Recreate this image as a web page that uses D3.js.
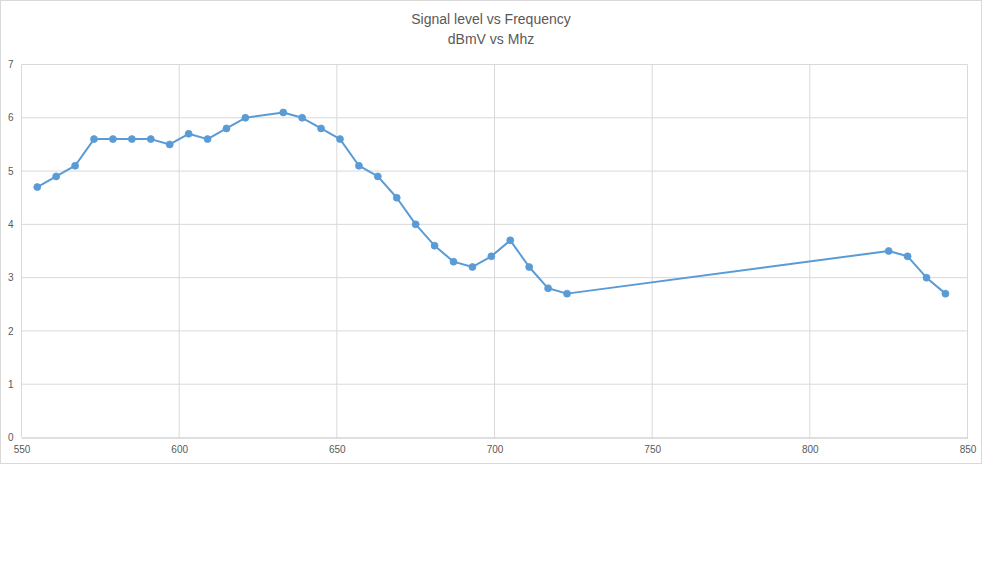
<!DOCTYPE html>
<html><head><meta charset="utf-8">
<script src="https://cdn.jsdelivr.net/npm/d3@7"></script>
<style>body{margin:0;background:#fff;}svg{display:block;}</style>
</head><body><svg id="c" width="999" height="562"></svg>
<script>
const titleLines = ["Signal level vs Frequency", "dBmV vs Mhz"];
const frequencies = [555,561,567,573,579,585,591,597,603,609,615,621,633,639,645,651,657,663,669,675,681,687,693,699,705,711,717,723,825,831,837,843];
const levels = [4.7,4.9,5.1,5.6,5.6,5.6,5.6,5.5,5.7,5.6,5.8,6.0,6.1,6.0,5.8,5.6,5.1,4.9,4.5,4.0,3.6,3.3,3.2,3.4,3.7,3.2,2.8,2.7,3.5,3.4,3.0,2.7];
const xTicks = [550,600,650,700,750,800,850];
const yTicks = [0,1,2,3,4,5,6,7];

const svg = d3.select("#c");
const font = "'Liberation Sans Narrow','Liberation Sans',Arial,sans-serif";
svg.append("rect").attr("x",0.5).attr("y",0.5).attr("width",981).attr("height",463)
  .attr("fill","#fff").attr("stroke","#D9D9D9");

const x = d3.scaleLinear().domain([550,850]).range([21.5,967.5]);
const y = d3.scaleLinear().domain([0,7]).range([437.5,64.5]);

svg.selectAll("text.title").data(titleLines).join("text")
  .attr("x",491).attr("y",(d,i)=>24+i*20).attr("text-anchor","middle")
  .attr("font-family",font).attr("font-size",14).attr("fill","#595959").text(d=>d);

// grid
svg.append("g").selectAll("line").data(yTicks.filter(d=>d>0)).join("line")
  .attr("x1",x(550)).attr("x2",x(850)).attr("y1",d=>y(d)).attr("y2",d=>y(d))
  .attr("stroke","#D9D9D9").attr("stroke-width",1);
svg.append("g").selectAll("line").data(xTicks).join("line")
  .attr("x1",d=>x(d)).attr("x2",d=>x(d)).attr("y1",y(0)).attr("y2",y(7))
  .attr("stroke","#D9D9D9").attr("stroke-width",1);

// axes
const xAxis = d3.axisBottom(x).tickValues(xTicks).tickSize(0).tickPadding(8).tickFormat(d3.format("d"));
const gx = svg.append("g").attr("transform",`translate(0,${y(0)})`).call(xAxis);
gx.select(".domain").attr("stroke","#BFBFBF");
gx.selectAll("text").attr("font-family",font).attr("font-size",10).attr("fill","#595959");

const yAxis = d3.axisLeft(y).tickValues(yTicks).tickSize(0).tickPadding(8).tickFormat(d3.format("d"));
const gy = svg.append("g").attr("transform",`translate(${x(550)},0)`).call(yAxis);
gy.select(".domain").remove();
gy.selectAll("text").attr("font-family",font).attr("font-size",10).attr("fill","#595959");

const data = frequencies.map((f,i)=>({f, v: levels[i]}));
svg.append("path").datum(data)
  .attr("d", d3.line().x(d=>x(d.f)).y(d=>y(d.v)))
  .attr("fill","none").attr("stroke","#5B9BD5").attr("stroke-width",2).attr("stroke-linejoin","round");
svg.append("g").selectAll("circle").data(data).join("circle")
  .attr("cx",d=>x(d.f)).attr("cy",d=>y(d.v)).attr("r",3.5)
  .attr("fill","#5B9BD5").attr("stroke","#5B9BD5").attr("stroke-width",0.75);
</script></body></html>
